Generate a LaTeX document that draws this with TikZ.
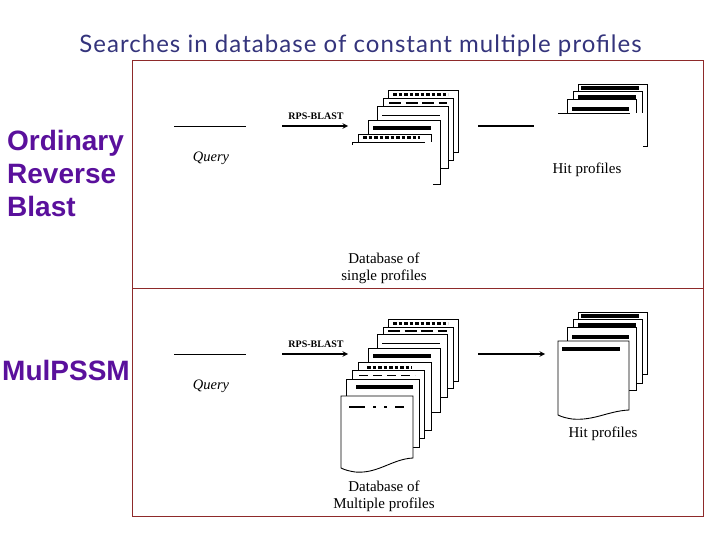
\documentclass[tikz,border=0pt]{standalone}
\usepackage{fontspec}
\setmainfont{Liberation Serif}
\setsansfont{Liberation Sans}
\newfontfamily\titlefont[LetterSpace=4.35]{Lato}
\definecolor{framered}{HTML}{8E2A2A}
\definecolor{headnavy}{HTML}{34347C}
\definecolor{labelpurple}{HTML}{5A109C}
\begin{document}
\begin{tikzpicture}[
  x=1pt,
  y=-1pt,
  >=stealth,
  frame/.style={draw=framered, line width=0.9pt},
  sheet/.style={draw=black, fill=white, line width=0.9pt},
  mask/.style={fill=white, draw=none},
  edgeline/.style={draw=black, line width=0.9pt},
  querybar/.style={draw=black, line width=0.8pt},
  flowline/.style={draw=black, line width=1.4pt},
  flowarrow/.style={draw=black, line width=1.4pt, ->},
  solidbar/.style={draw=black, line width=3.6pt},
  thinbar/.style={draw=black, line width=0.9pt},
  dotbar/.style={draw=black, line width=3pt, dash pattern=on 3.5pt off 2pt},
  dashbar/.style={draw=black, line width=2.6pt, dash pattern=on 12pt off 4.5pt},
  thindash/.style={draw=black, line width=0.9pt, dash pattern=on 9pt off 5pt},
  headline/.style={font=\titlefont\fontsize{24}{28}\selectfont, text=headnavy},
  method/.style={font=\sffamily\bfseries\fontsize{28}{33}\selectfont, text=labelpurple, align=left},
  caption/.style={font=\fontsize{15}{17}\selectfont, align=center, inner sep=0pt},
  querytext/.style={font=\itshape\fontsize{14.5}{17}\selectfont, inner sep=0pt},
  tool/.style={font=\bfseries\fontsize{10}{12}\selectfont, inner sep=0pt}
]
\useasboundingbox[fill=white] (0,0) rectangle (720,540);

% Title, frame and row labels.
\node[headline] (title) at (360.5,45.5) {Searches in database of constant multiple profiles};
\path[frame] (132,60) rectangle (703,516);
\coordinate (divleft) at (132,288);
\coordinate (divright) at (703,288);
\draw[frame] (divleft) -- (divright);
\node[method, anchor=west, inner sep=0pt] (ordinary) at (7,173) {Ordinary\\Reverse\\Blast};
\node[method, anchor=west, inner sep=0pt] (mulpssm) at (2,370) {MulPSSM};

% ---------------------------------------------------------------------------
% Upper row: ordinary search
% ---------------------------------------------------------------------------
\coordinate (querya) at (174,126);
\coordinate (queryb) at (246,126);
\draw[querybar] (querya) -- (queryb);
\node[querytext] (querytop) at (211,158.5) {Query};
\coordinate (toola) at (282,126);
\coordinate (toolb) at (348,126);
\draw[flowarrow] (toola) -- (toolb);
\node[tool] (tooltop) at (316,116.5) {RPS-BLAST};

\path[sheet] (388,90) rectangle (458,152);
\draw[dotbar] (393,95) -- (448,95);
\path[sheet] (383,98) rectangle (453,160);
\draw[dashbar] (389,103) -- (447,103);
\path[sheet] (377,106) rectangle (448,168);
\draw[thinbar] (382,115) -- (440,115);
\path[sheet] (368,120) rectangle (440,184);
\draw[solidbar] (373,128) -- (431,128);
\path[sheet] (358,134) rectangle (431,170);
\draw[dotbar] (363,138) -- (420,138);
\path[mask] (345,142.5) rectangle (433,190);
\draw[edgeline] (352,145) -- (352,142) -- (425,142);
\node[caption] (dbtop) at (384,268) {Database of\\single profiles};

\coordinate (hita) at (478,126);
\coordinate (hitb) at (534,126);
\draw[flowline] (hita) -- (hitb);
\path[sheet] (578,84) rectangle (647,146);
\draw[solidbar] (581,88) -- (639,88);
\path[sheet] (573,91) rectangle (642,125);
\draw[solidbar, line width=4.6pt] (578,97) -- (636,97);
\path[sheet] (567,99) rectangle (636,125);
\draw[solidbar] (572,109) -- (629,109);
\path[mask] (555,113.5) rectangle (643,147);
\draw[edgeline] (558,113) -- (630,113);
\node[caption] (hittop) at (587,169.5) {Hit profiles};

% ---------------------------------------------------------------------------
% Lower row: search in multiple profiles
% ---------------------------------------------------------------------------
\coordinate (queryc) at (174,354);
\coordinate (queryd) at (246,354);
\draw[querybar] (queryc) -- (queryd);
\node[querytext] (querylow) at (211,386.5) {Query};
\coordinate (toolc) at (282,354);
\coordinate (toold) at (348,354);
\draw[flowarrow] (toolc) -- (toold);
\node[tool] (toollow) at (316,344.5) {RPS-BLAST};

\path[sheet] (388,319) rectangle (458,381);
\draw[dotbar] (393,323) -- (448,323);
\path[sheet] (383,327) rectangle (453,388);
\draw[dashbar] (388,331) -- (447,331);
\path[sheet] (377,334) rectangle (447,397);
\draw[thinbar] (382,343) -- (440,343);
\path[sheet] (368,348) rectangle (440,412);
\draw[solidbar] (373,356) -- (431,356);
\path[sheet] (358,362) rectangle (431,430);
\draw[dotbar] (367,367) -- (412,367);
\path[sheet] (352,370) rectangle (424,438);
\draw[thindash] (359,375) -- (415,375);
\path[sheet] (346,379) rectangle (419,447);
\draw[solidbar, line width=4.6pt] (356,387) -- (413,387);
\path[sheet] (341,396) -- (413,396) -- (413,458)
  .. controls (392,459) and (378,474) .. (355,472)
  .. controls (349,471) and (345,470) .. (341,468) -- cycle;
\draw[dashbar, dash pattern=on 16pt off 8pt on 3pt off 8pt on 3pt off 8pt on 12pt] (349,407) -- (404,407);
\node[caption] (dblow) at (384,496) {Database of\\Multiple profiles};

\coordinate (hitc) at (478,354);
\coordinate (hitd) at (545,354);
\draw[flowarrow] (hitc) -- (hitd);
\path[sheet] (578,312) rectangle (647,374);
\draw[solidbar] (581,316) -- (639,316);
\path[sheet] (573,319) rectangle (642,383);
\draw[solidbar, line width=4.6pt] (578,325) -- (636,325);
\path[sheet] (567,327) rectangle (636,390);
\draw[solidbar] (572,337) -- (629,337);
\path[sheet] (558,341) -- (629,341) -- (629,410)
  .. controls (608,411) and (594,421) .. (572,419)
  .. controls (566,418) and (562,417) .. (558,415) -- cycle;
\draw[solidbar] (562,349) -- (620,349);
\node[caption] (hitlow) at (603,433.5) {Hit profiles};

\end{tikzpicture}
\end{document}
